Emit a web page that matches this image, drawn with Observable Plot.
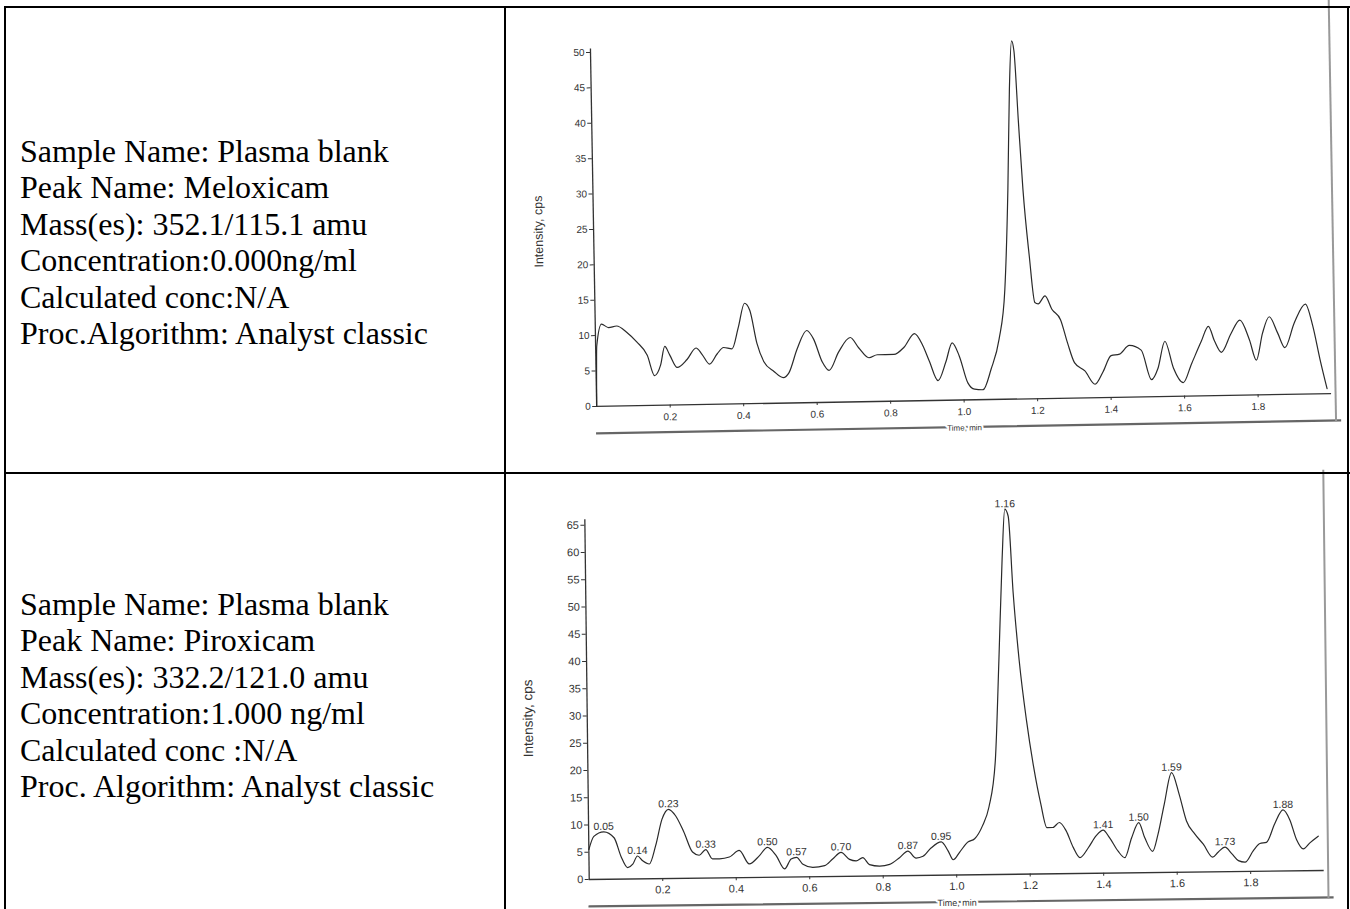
<!DOCTYPE html>
<html>
<head>
<meta charset="utf-8">
<script src="https://cdn.jsdelivr.net/npm/d3@7"></script>
<script src="https://cdn.jsdelivr.net/npm/@observablehq/plot@0.6"></script>
<style>
html, body { margin: 0; padding: 0; background: #fff; width: 1350px; height: 909px; overflow: hidden; }
#page { position: relative; width: 1350px; height: 909px; overflow: hidden; background: #fff; }
.bl { position: absolute; background: #000; }
.info { position: absolute; left: 20px; font-family: "Liberation Serif", "Times New Roman", serif; font-size: 32px; line-height: 36.4px; color: #000; white-space: pre; }
.chart { position: absolute; left: 510px; }
</style>
</head>
<body>
<div id="page">
  <div id="chartTop" class="chart" style="top:8px"></div>
  <div id="chartBottom" class="chart" style="top:476px"></div>
  <div id="infoTop" class="info" style="top:133px"></div>
  <div id="infoBottom" class="info" style="top:586px"></div>
  <div class="bl" style="left:4px;top:6px;width:1346px;height:2px"></div>
  <div class="bl" style="left:4px;top:6px;width:2px;height:903px"></div>
  <div class="bl" style="left:504px;top:6px;width:2px;height:903px"></div>
  <div class="bl" style="left:1347px;top:6px;width:2px;height:903px"></div>
  <div class="bl" style="left:4px;top:472px;width:1346px;height:2px"></div>
</div>
<script>
// ---- text of the left column ----
const meloxInfo = [
  "Sample Name: Plasma blank",
  "Peak Name: Meloxicam",
  "Mass(es): 352.1/115.1 amu",
  "Concentration:0.000ng/ml",
  "Calculated conc:N/A",
  "Proc.Algorithm: Analyst classic"
];
const piroxInfo = [
  "Sample Name: Plasma blank",
  "Peak Name: Piroxicam",
  "Mass(es): 332.2/121.0 amu",
  "Concentration:1.000 ng/ml",
  "Calculated conc :N/A",
  "Proc. Algorithm: Analyst classic"
];

// ---- Meloxicam chromatogram (top) ----
const meloxTime = [0, 0.003, 0.017, 0.036, 0.058, 0.085, 0.112, 0.14, 0.159, 0.176, 0.188, 0.201, 0.221, 0.248, 0.273, 0.289, 0.309, 0.33, 0.348, 0.371, 0.389, 0.407, 0.421, 0.439, 0.457, 0.484, 0.509, 0.525, 0.548, 0.575, 0.593, 0.616, 0.634, 0.661, 0.693, 0.716, 0.743, 0.766, 0.811, 0.839, 0.868, 0.89, 0.907, 0.93, 0.952, 0.97, 0.989, 1.011, 1.029, 1.052, 1.075, 1.098, 1.116, 1.129, 1.138, 1.146, 1.152, 1.161, 1.17, 1.184, 1.197, 1.206, 1.225, 1.243, 1.266, 1.284, 1.302, 1.33, 1.357, 1.379, 1.402, 1.425, 1.452, 1.484, 1.511, 1.529, 1.549, 1.571, 1.597, 1.62, 1.648, 1.668, 1.684, 1.702, 1.729, 1.754, 1.779, 1.797, 1.815, 1.834, 1.856, 1.875, 1.902, 1.933, 1.952, 1.97, 1.988];
const meloxIntensity = [0, 8.5, 11.6, 11.1, 11.3, 10.4, 9.0, 7.1, 4.2, 5.7, 8.3, 7.1, 5.3, 6.4, 8.0, 7.1, 5.7, 7.1, 8.0, 7.8, 10.8, 14.2, 13.2, 8.5, 5.9, 4.5, 3.6, 4.3, 7.6, 10.2, 9.0, 5.7, 4.5, 7.1, 9.1, 7.6, 6.2, 6.6, 6.6, 7.6, 9.5, 7.8, 5.6, 2.8, 5.4, 8.1, 6.2, 2.4, 1.5, 1.4, 4.3, 8.5, 15.5, 29.6, 43.9, 50.6, 49.2, 39.0, 29.6, 20.2, 13.6, 13.4, 14.5, 12.6, 11.1, 7.8, 5.0, 3.8, 1.9, 3.6, 5.9, 6.1, 7.3, 6.6, 2.4, 4.0, 7.8, 4.0, 1.9, 4.5, 7.7, 9.8, 7.7, 6.1, 8.7, 10.6, 7.8, 4.9, 8.7, 11.0, 8.7, 6.6, 10.1, 12.7, 9.6, 4.9, 0.7];
const meloxYTicks = [0, 5, 10, 15, 20, 25, 30, 35, 40, 45, 50];

// ---- Piroxicam chromatogram (bottom) ----
const piroxTime = [0, 0.014, 0.041, 0.069, 0.087, 0.105, 0.119, 0.132, 0.146, 0.164, 0.182, 0.2, 0.218, 0.237, 0.259, 0.282, 0.3, 0.318, 0.336, 0.355, 0.382, 0.409, 0.436, 0.464, 0.486, 0.509, 0.532, 0.55, 0.565, 0.582, 0.609, 0.641, 0.663, 0.686, 0.709, 0.727, 0.745, 0.763, 0.791, 0.818, 0.845, 0.868, 0.89, 0.909, 0.931, 0.959, 0.977, 0.991, 1.009, 1.031, 1.05, 1.072, 1.09, 1.109, 1.122, 1.134, 1.143, 1.152, 1.163, 1.177, 1.195, 1.213, 1.231, 1.247, 1.263, 1.281, 1.299, 1.318, 1.336, 1.359, 1.381, 1.4, 1.417, 1.44, 1.458, 1.477, 1.497, 1.513, 1.534, 1.549, 1.567, 1.588, 1.608, 1.627, 1.649, 1.672, 1.697, 1.712, 1.731, 1.749, 1.767, 1.785, 1.808, 1.826, 1.844, 1.867, 1.89, 1.908, 1.926, 1.944, 1.962, 1.985];
const piroxIntensity = [5.5, 7.9, 8.7, 7.6, 4.2, 2.1, 2.7, 4.2, 3.3, 2.7, 6.1, 10.9, 12.7, 11.5, 8.5, 4.8, 4.2, 5.2, 3.5, 3.5, 3.8, 5.0, 2.5, 4.0, 5.5, 4.0, 1.5, 3.3, 3.6, 2.3, 1.7, 2.0, 3.2, 4.4, 3.1, 2.8, 3.4, 2.1, 1.8, 2.1, 3.3, 4.5, 3.2, 3.5, 5.0, 6.1, 4.5, 2.8, 4.2, 6.0, 6.6, 9.0, 12.4, 21.0, 39.4, 57.8, 67.0, 65.7, 51.6, 39.3, 28.2, 19.6, 12.9, 8.5, 8.5, 9.4, 7.9, 4.8, 2.9, 4.7, 6.9, 7.9, 6.5, 4.0, 2.8, 6.4, 9.2, 6.4, 3.9, 7.0, 12.5, 18.3, 14.3, 9.4, 7.0, 5.1, 2.7, 3.6, 4.5, 3.3, 2.0, 1.7, 3.8, 5.1, 5.3, 8.7, 11.2, 9.4, 5.7, 4.0, 5.1, 6.3];
const piroxPeakLabels = ["0.05", "0.14", "0.23", "0.33", "0.50", "0.57", "0.70", "0.87", "0.95", "1.16", "1.41", "1.50", "1.59", "1.73", "1.88"];
const piroxYTicks = [0, 5, 10, 15, 20, 25, 30, 35, 40, 45, 50, 55, 60, 65];

// ---- shared ----
const timeTicks = [0.2, 0.4, 0.6, 0.8, 1.0, 1.2, 1.4, 1.6, 1.8];
const yLabel = "Intensity, cps";
const xLabel = "Time, min";

function rows(t, v) { return t.map((d, i) => ({time: d, intensity: v[i]})); }

function peakPoints(data, labels) {
  return labels.map(l => {
    const t = +l;
    const c = data.filter(d => Math.abs(d.time - t) <= 0.026);
    const best = c.reduce((a, b) => (b.intensity > a.intensity ? b : a));
    return {time: best.time, intensity: best.intensity, label: l};
  });
}

function chromatogram(o) {
  const data = rows(o.time, o.intensity);
  const marks = [
    Plot.frame({anchor: "bottom", insetBottom: -o.frameBelow, insetRight: -8, stroke: "#666", strokeWidth: 2.2}),
    Plot.frame({anchor: "right", insetRight: -4, insetTop: -o.frameAbove, insetBottom: -o.frameBelow, stroke: "#999", strokeWidth: 2}),
    Plot.ruleX([0], {stroke: "#333", strokeWidth: 1.3}),
    Plot.ruleY([0], {stroke: "#333", strokeWidth: 1.3}),
    Plot.axisY({ticks: o.yTicks, tickSize: 4, tickPadding: 2, label: null, fontSize: o.tickFont, fill: "#333"}),
    Plot.axisX({ticks: timeTicks, tickSize: 3, tickPadding: o.xPad, tickFormat: d3.format(".1f"), label: null, fontSize: o.tickFont, fill: "#333"}),
    Plot.line(data, {x: "time", y: "intensity", curve: "monotone-x", stroke: "#2a2a2a", strokeWidth: 1.2}),
    Plot.text([yLabel], {frameAnchor: "left", textAnchor: "middle", lineAnchor: "middle", dx: -o.yLabelOffset, dy: o.yLabelShift, rotate: -90, fontSize: o.yLabelFont, fill: "#333"}),
    Plot.text([xLabel], {frameAnchor: "bottom", textAnchor: "middle", lineAnchor: "middle", dy: o.xLabelOffset, fontSize: o.xLabelFont, fill: "#333", stroke: "white", strokeWidth: 4})
  ];
  if (o.peaks) {
    marks.push(Plot.text(peakPoints(data, o.peaks), {x: "time", y: "intensity", text: "label", lineAnchor: "bottom", dy: -2, fontSize: 10.5, fill: "#333"}));
  }
  const svg = Plot.plot({
    width: o.width, height: o.height,
    marginLeft: o.ml, marginRight: o.mr, marginTop: o.mt, marginBottom: o.mb,
    x: {domain: [0, 2.0]},
    y: {domain: [0, o.yMax]},
    style: {fontFamily: "'Liberation Sans', Arial, sans-serif", fontSize: "10px", color: "#333", background: "transparent", overflow: "visible"},
    marks
  });
  const cx = (o.ml + o.width - o.mr) / 2, cy = (o.mt + o.height - o.mb) / 2;
  svg.style.transformOrigin = cx + "px " + cy + "px";
  svg.style.transform = "rotate(" + o.tilt + "deg)";
  return svg;
}

document.getElementById("infoTop").textContent = meloxInfo.join("\n");
document.getElementById("infoBottom").textContent = piroxInfo.join("\n");

document.getElementById("chartTop").appendChild(chromatogram({
  time: meloxTime, intensity: meloxIntensity, yTicks: meloxYTicks, yMax: 50.5,
  width: 835, height: 460, ml: 83, mr: 17, mt: 34, mb: 68.5,
  tickFont: 10, xPad: 5, yLabelOffset: 55, yLabelShift: 3, yLabelFont: 12.5,
  xLabelOffset: 28, xLabelFont: 8, frameAbove: 36, frameBelow: 27, tilt: -1.0
}));

document.getElementById("chartBottom").appendChild(chromatogram({
  time: piroxTime, intensity: piroxIntensity, yTicks: piroxYTicks, yMax: 66, peaks: piroxPeakLabels,
  width: 835, height: 433, ml: 76.5, mr: 23.5, mt: 38.8, mb: 34.5,
  tickFont: 11, xPad: 4, yLabelOffset: 59, yLabelShift: 18, yLabelFont: 13.5,
  xLabelOffset: 28, xLabelFont: 9, frameAbove: 40, frameBelow: 27, tilt: -0.7
}));
</script>
</body>
</html>
